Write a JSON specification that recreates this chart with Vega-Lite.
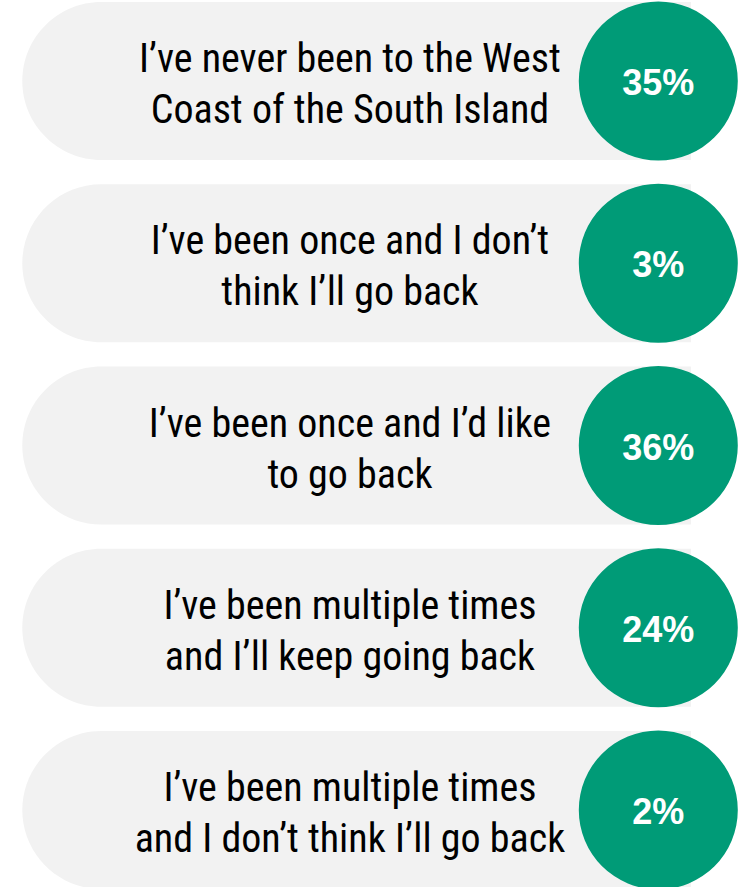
{
  "$schema": "https://vega.github.io/schema/vega-lite/v6.json",
  "width": 743,
  "height": 887,
  "padding": 0,
  "autosize": {"type": "none"},
  "background": "white",
  "config": {"view": {"stroke": null}},
  "data": {
    "values": [
      {"order": 1, "answer": "I’ve never been to the West\nCoast of the South Island", "share": 0.35},
      {"order": 2, "answer": "I’ve been once and I don’t\nthink I’ll go back", "share": 0.03},
      {"order": 3, "answer": "I’ve been once and I’d like\nto go back", "share": 0.36},
      {"order": 4, "answer": "I’ve been multiple times\nand I’ll keep going back", "share": 0.24},
      {"order": 5, "answer": "I’ve been multiple times\nand I don’t think I’ll go back", "share": 0.02}
    ]
  },
  "encoding": {
    "y": {
      "field": "order",
      "type": "ordinal",
      "axis": null,
      "scale": {"range": [0, 891], "paddingInner": 0.133, "paddingOuter": 0.011}
    }
  },
  "layer": [
    {
      "mark": {"type": "rect", "color": "#f2f2f2", "cornerRadiusTopLeft": 79, "cornerRadiusBottomLeft": 79},
      "encoding": {
        "x": {"datum": 3, "type": "quantitative", "axis": null, "scale": {"domain": [0, 100], "nice": false, "zero": false}},
        "x2": {"datum": 93}
      }
    },
    {
      "mark": {"type": "circle", "color": "#009b77", "opacity": 1, "size": 25281},
      "encoding": {
        "x": {"datum": 88.6, "type": "quantitative"}
      }
    },
    {
      "mark": {"type": "text", "font": "Roboto Condensed", "fontSize": 40, "lineHeight": 51, "lineBreak": "\n", "color": "black", "align": "center", "baseline": "middle", "dy": -21},
      "encoding": {
        "x": {"datum": 47.1, "type": "quantitative"},
        "text": {"field": "answer"}
      }
    },
    {
      "mark": {"type": "text", "font": "Liberation Sans", "fontWeight": "bold", "fontSize": 36, "color": "white", "align": "center", "baseline": "middle", "dy": 3},
      "encoding": {
        "x": {"datum": 88.6, "type": "quantitative"},
        "text": {"field": "share", "type": "quantitative", "format": ".0%"}
      }
    }
  ]
}
